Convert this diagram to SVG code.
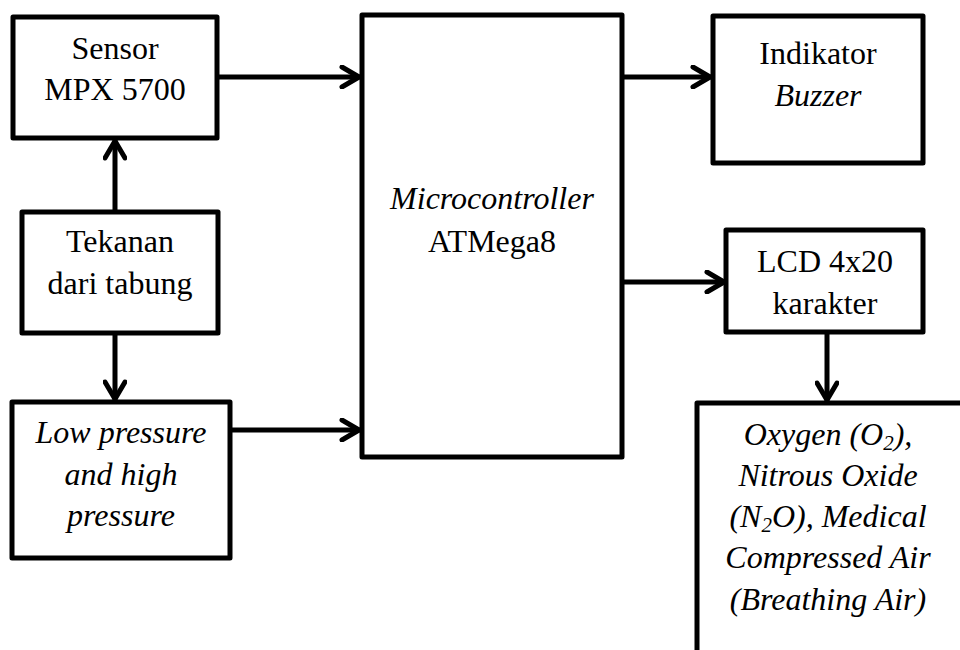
<svg xmlns="http://www.w3.org/2000/svg" width="960" height="650" viewBox="0 0 960 650">
<style>
.box{fill:#fff;stroke:#000;stroke-width:5;stroke-linejoin:round}
.c{fill:none;stroke:#000;stroke-width:5;stroke-linecap:round;stroke-linejoin:round}
</style>
<defs>
<marker id="ah" viewBox="-20 -12 24 24" markerWidth="24" markerHeight="24" refX="0" refY="0" orient="auto" markerUnits="userSpaceOnUse">
<path d="M-17,-10 L0,0 L-17,10" fill="none" stroke="#000" stroke-width="5" stroke-linecap="round" stroke-linejoin="round"/>
</marker>
</defs>
<rect width="960" height="650" fill="#fff"/>
<g id="connectors">
<path class="c" d="M217,77 H359" marker-end="url(#ah)"/>
<path class="c" d="M230,430 H359" marker-end="url(#ah)"/>
<path class="c" d="M115,212 V141" marker-end="url(#ah)"/>
<path class="c" d="M115,333 V399" marker-end="url(#ah)"/>
<path class="c" d="M622,77 H710" marker-end="url(#ah)"/>
<path class="c" d="M622,282 H724" marker-end="url(#ah)"/>
<path class="c" d="M827,332 V400" marker-end="url(#ah)"/>
</g>
<g font-family="Liberation Serif" font-size="32" text-anchor="middle" fill="#000">
<g id="sensor">
<rect class="box" x="13" y="17" width="204" height="121"/>
<text x="115" y="59">Sensor</text>
<text x="115" y="100">MPX 5700</text>
</g>
<g id="tekanan">
<rect class="box" x="22" y="212" width="196" height="121"/>
<text x="120" y="252">Tekanan</text>
<text x="120" y="294">dari tabung</text>
</g>
<g id="lowhigh">
<rect class="box" x="12" y="402" width="218" height="156"/>
<text font-style="italic" x="121" y="443">Low pressure</text>
<text font-style="italic" x="121" y="485">and high</text>
<text font-style="italic" x="121" y="526">pressure</text>
</g>
<g id="micro">
<rect class="box" x="362" y="15" width="260" height="442"/>
<text font-style="italic" x="492" y="209">Microcontroller</text>
<text x="492" y="252">ATMega8</text>
</g>
<g id="indikator">
<rect class="box" x="713" y="16" width="210" height="147"/>
<text x="818" y="64">Indikator</text>
<text font-style="italic" x="818" y="106">Buzzer</text>
</g>
<g id="lcd">
<rect class="box" x="726" y="230" width="197" height="102"/>
<text x="825" y="272">LCD 4x20</text>
<text x="825" y="314">karakter</text>
</g>
<g id="gas">
<path class="c" d="M697,660 V403 H970" stroke-linecap="butt"/>
<text font-style="italic" x="828" y="445">Oxygen (O<tspan font-size="21" dy="5">2</tspan><tspan dy="-5">),</tspan></text>
<text font-style="italic" x="828" y="486">Nitrous Oxide</text>
<text font-style="italic" x="828" y="527">(N<tspan font-size="21" dy="5">2</tspan><tspan dy="-5">O), Medical</tspan></text>
<text font-style="italic" x="828" y="568">Compressed Air</text>
<text font-style="italic" x="828" y="610">(Breathing Air)</text>
</g>
</g>
</svg>
